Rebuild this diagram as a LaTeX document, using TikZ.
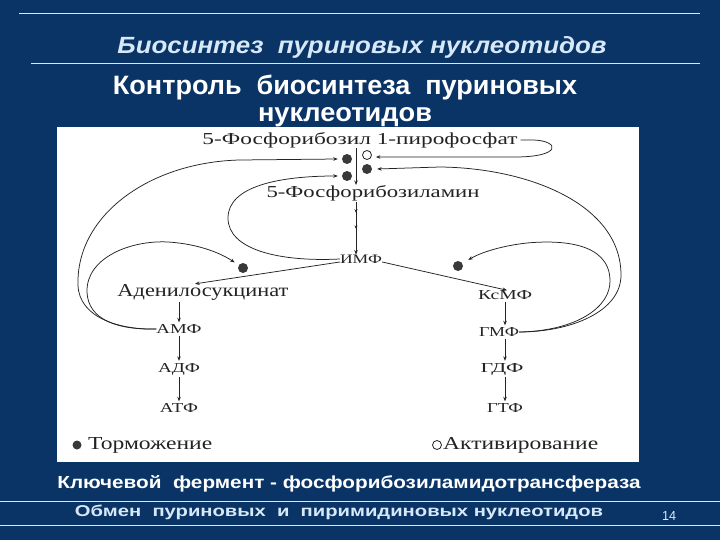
\documentclass[tikz,border=0pt]{standalone}
\usepackage{fontspec}
\setmainfont{Liberation Serif}
\newfontfamily\hsans{Liberation Sans}
\usetikzlibrary{arrows.meta,decorations.markings}
\definecolor{bg}{RGB}{10,52,102}
\definecolor{ttl}{RGB}{215,232,248}
\definecolor{ink}{RGB}{35,35,35}
\newcommand\fit[3]{\resizebox{#1pt}{#2pt}{#3}}
\begin{document}
\begin{tikzpicture}[x=1pt,y=-1pt,
  lbl/.style={inner sep=0pt,text=ink},
  hd/.style={inner sep=0pt,text=white},
  ln/.style={draw=ink,line width=0.75pt},
  arr/.style={ln,-{Stealth[length=4.5pt,width=3.5pt]}},
  inh/.style={circle,fill=ink!90,inner sep=0pt,minimum size=10pt},
  act/.style={circle,draw=ink,fill=white,line width=0.8pt,inner sep=0pt,minimum size=9pt},
  rulex/.style={draw=ttl,line width=1pt}]
\fill[bg] (0,0) rectangle (720,540);
\useasboundingbox (0,0) rectangle (720,540);
% header
\draw[rulex] (19,14) -- (700,14);
\node[hd,text=ttl,anchor=base] (title) at (362,54) {\fit{489}{17}{\hsans\bfseries\itshape Биосинтез\ \ пуриновых нуклеотидов}};
\draw[rulex] (31,64) -- (700,64);
\node[hd,anchor=base] (sub1) at (345,95) {\fit{464}{19.5}{\hsans\bfseries Контроль\ \ биосинтеза\ \ пуриновых}};
\node[hd,anchor=base] (sub2) at (345,121.5) {\fit{174}{14}{\hsans\bfseries нуклеотидов}};
% white panel
\fill[white] (57,127) rectangle (639,462);
% labels
\node[lbl] (prpp) at (360,140) {\fit{315}{12}{5-Фосфорибозил 1-пирофосфат}};
\node[lbl] (pra) at (373,193) {\fit{213}{12}{5-Фосфорибозиламин}};
\node[lbl] (imf) at (361,259) {\fit{42}{8.5}{ИМФ}};
\node[lbl] (ads) at (203,292) {\fit{171}{12}{Аденилосукцинат}};
\node[lbl] (amf) at (179,329) {\fit{45}{9}{АМФ}};
\node[lbl] (adf) at (179,369) {\fit{42}{9}{АДФ}};
\node[lbl] (atf) at (179,408) {\fit{38}{9}{АТФ}};
\node[lbl] (ksmf) at (505,295) {\fit{54}{9}{КсМФ}};
\node[lbl] (gmf) at (499,332) {\fit{40}{9}{ГМФ}};
\node[lbl] (gdf) at (502,369) {\fit{43}{9}{ГДФ}};
\node[lbl] (gtf) at (505,408) {\fit{36}{9}{ГТФ}};
% regulation dots
\node[inh] (d1) at (347,159) {};
\node[inh] (d2) at (347,176) {};
\node[act] (o1) at (367,155) {};
\node[inh] (d3) at (367,169) {};
\node[inh] (d4) at (243,268) {};
\node[inh] (d5) at (458,266) {};
% legend
\node[inh,minimum size=9pt] (ldot) at (77,445) {};
\node[lbl,anchor=west] (ltxt) at (88,445) {\fit{124}{12}{Торможение}};
\node[act] (lcirc) at (437,445) {};
\node[lbl,anchor=west] (rtxt) at (443,445) {\fit{155}{12}{Активирование}};
% main pathway
\coordinate (v) at (356,0);
\draw[arr] (prpp.south -| v) -- (pra.north -| v);
\draw[arr,shorten <=1pt,postaction={decorate},decoration={markings,
   mark=at position 0.22 with {\arrow{Stealth[length=3.5pt,width=3pt]}},
   mark=at position 0.52 with {\arrow{Stealth[length=3.5pt,width=3pt]}}}]
   (pra.south -| v) -- (imf.north -| v);
\draw[arr] ([yshift=-3pt]imf.west) -- ([xshift=-8pt]ads.north);
\draw[arr] ([yshift=-3pt]imf.east) -- ([xshift=2pt]ksmf.north);
\draw[arr,shorten <=2pt,shorten >=2pt] (ads.south -| amf) -- (amf.north);
\draw[arr,shorten <=2pt,shorten >=2pt] (amf.south) -- (adf.north);
\draw[arr,shorten <=2pt,shorten >=2pt] (adf.south) -- (atf.north);
\draw[arr,shorten <=2pt,shorten >=2pt] (ksmf.south -| ksmf) -- (ksmf.south |- gmf.north);
\draw[arr,shorten <=2pt,shorten >=2pt] (gmf.south -| ksmf) -- (ksmf.south |- gdf.north);
\draw[arr,shorten <=2pt,shorten >=2pt] (gdf.south -| ksmf) -- (ksmf.south |- gtf.north);
% activation loop of PRPP
\draw[arr] ([xshift=3pt]prpp.east) -- ++(13,0) .. controls (560,141) and (562,157) .. (515,157) -- ([xshift=4pt,yshift=-2pt]o1.east);
% feedback from IMF
\draw[arr] (imf.west) .. controls (280,262) and (228,250) .. (228,218) .. controls (228,186) and (280,176) .. ([xshift=-4pt]d2.west);
% feedback from AMF
\draw[arr] (amf.west) .. controls (120,330) and (79,318) .. (78,285) .. controls (76,215) and (150,162) .. (240,160) -- ([xshift=-4pt]d1.west);
\draw[arr,shorten >=10pt] (amf.west) .. controls (118,330) and (88,320) .. (87,292) .. controls (86,258) and (130,240) .. (168,242) .. controls (200,244) and (222,254) .. (d4.center);
% feedback from GMF
\draw[arr] (gmf.east) .. controls (570,332) and (621,312) .. (621,275) .. controls (621,205) and (530,168) .. (440,167) -- ([xshift=5pt]d3.east);
\draw[arr,shorten >=12pt] (gmf.east) .. controls (575,331) and (611,308) .. (610,280) .. controls (609,242) and (560,240) .. (527,243) .. controls (500,246) and (480,253) .. (d5.center);
% footer
\node[hd,anchor=base] (key) at (349,488) {\fit{583}{13}{\hsans\bfseries Ключевой\ \ фермент - фосфорибозиламидотрансфераза}};
\draw[rulex] (0,501) -- (720,501);
\node[hd,text=ttl,anchor=base] (foot) at (339,516) {\fit{528}{11.5}{\hsans\bfseries Обмен\ \ пуриновых\ \ и\ \ пиримидиновых нуклеотидов}};
\draw[rulex] (0,525) -- (720,525);
\node[hd,text=ttl] (num) at (669,516) {\fit{14}{9}{\hsans 14}};
\end{tikzpicture}
\end{document}
